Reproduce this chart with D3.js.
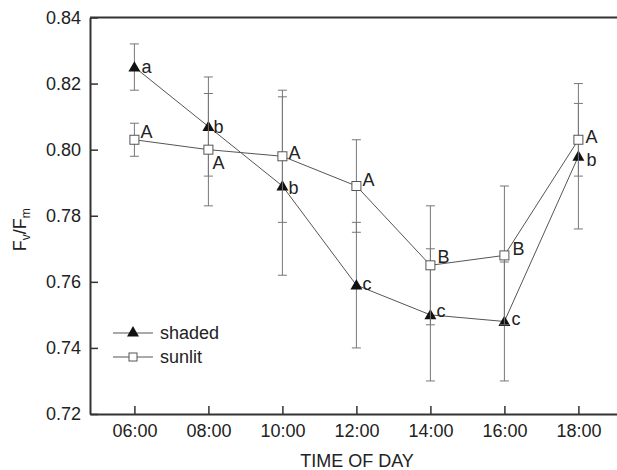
<!DOCTYPE html>
<html><head><meta charset="utf-8">
<script src="https://cdn.jsdelivr.net/npm/d3@7"></script>
<style>
body{margin:0;background:#fff;}
svg{display:block;font-family:"Liberation Sans",Arial,sans-serif;}
</style></head>
<body>
<svg id="chart" width="617" height="470"></svg>
<script>
// ---- data ----
const hours = [6, 8, 10, 12, 14, 16, 18];
const tickLabels = ["06:00", "08:00", "10:00", "12:00", "14:00", "16:00", "18:00"];
const shadedMean = [0.825, 0.807, 0.789, 0.759, 0.750, 0.748, 0.798];
const shadedErr  = [0.007, 0.015, 0.027, 0.019, 0.020, 0.018, 0.022];
const shadedSig  = ["a", "b", "b", "c", "c", "c", "b"];
const sunlitMean = [0.803, 0.800, 0.798, 0.789, 0.765, 0.768, 0.803];
const sunlitErr  = [0.005, 0.017, 0.020, 0.014, 0.018, 0.021, 0.011];
const sunlitSig  = ["A", "A", "A", "A", "B", "B", "A"];
const yTicks = [0.72, 0.74, 0.76, 0.78, 0.80, 0.82, 0.84];

// ---- layout (label offsets in px) ----
const shadedLabelOff = [[7,0],[5,0],[6,2],[6,-1],[6,-4],[7,-3],[8,3]];
const sunlitLabelOff = [[6,-8],[4,13],[6,-4],[6,-6],[7,-9],[8,-7],[7,-3]];

const svg = d3.select("#chart");
const L = 90, T = 17.5, B = 414;
const FS = "18px";
const x = d3.scaleLinear().domain([4.8, 19.4]).range([L, L + 14.6 * 37]);
const y = d3.scaleLinear().domain([0.72, 0.84]).range([B, T]);

const axisColor = "#333";
const lineColor = "#555";
const errColor = "#777";
const textColor = "#222";

// axes
const gx = svg.append("g").attr("transform", `translate(0,${B})`)
  .call(d3.axisBottom(x).tickValues(hours).tickFormat((d,i)=>tickLabels[i]).tickSizeInner(-8).tickSizeOuter(0).tickPadding(10));
const gy = svg.append("g").attr("transform", `translate(${L},0)`)
  .call(d3.axisLeft(y).tickValues(yTicks).tickFormat(d3.format(".2f")).tickSizeInner(-8).tickSizeOuter(0).tickPadding(9));
[gx, gy].forEach(g => {
  g.select(".domain").attr("stroke", axisColor).attr("stroke-width", 2);
  g.selectAll(".tick line").attr("stroke", axisColor).attr("stroke-width", 1.5);
  g.selectAll(".tick text").attr("fill", textColor).style("font-size", FS).style("font-family", "Liberation Sans, Arial, sans-serif");
});
// top frame line
svg.append("line").attr("x1", L).attr("x2", 617).attr("y1", T).attr("y2", T)
  .attr("stroke", axisColor).attr("stroke-width", 2);

// axis titles
const yl = svg.append("text").attr("transform", `translate(26,${y(0.78)+14}) rotate(-90)`)
  .attr("text-anchor", "middle").attr("fill", textColor).style("font-size", FS);
yl.append("tspan").attr("fill", textColor).text("F");
yl.append("tspan").attr("fill", textColor).text("v").attr("dy", 4).style("font-size", "12px");
yl.append("tspan").attr("fill", textColor).text("/F").attr("dy", -4);
yl.append("tspan").attr("fill", textColor).text("m").attr("dy", 4).style("font-size", "12px");

svg.append("text").attr("x", 357).attr("y", 467).attr("text-anchor", "middle")
  .attr("fill", textColor).style("font-size", FS).text("TIME OF DAY");

const line = d3.line().x(d => x(d[0])).y(d => y(d[1]));
const tri = d3.symbol().type(d3.symbolTriangle).size(62);

function drawSeries(means, errs) {
  const g = svg.append("g");
  hours.forEach((h, i) => {
    const cx = x(h), y1 = y(means[i] + errs[i]), y2 = y(means[i] - errs[i]);
    g.append("line").attr("x1", cx).attr("x2", cx).attr("y1", y1).attr("y2", y2).attr("stroke", errColor).attr("stroke-width", 1);
    [y1, y2].forEach(yy => g.append("line").attr("x1", cx - 4.5).attr("x2", cx + 4.5).attr("y1", yy).attr("y2", yy).attr("stroke", errColor).attr("stroke-width", 1));
  });
  g.append("path").datum(hours.map((h, i) => [h, means[i]])).attr("d", line)
    .attr("fill", "none").attr("stroke", lineColor).attr("stroke-width", 1);
  return g;
}
const gSh = drawSeries(shadedMean, shadedErr);
const gSu = drawSeries(sunlitMean, sunlitErr);

// markers
hours.forEach((h, i) => {
  gSu.append("rect").attr("x", x(h) - 4.5).attr("y", y(sunlitMean[i]) - 4.5).attr("width", 9).attr("height", 9)
    .attr("fill", "#fff").attr("stroke", "#555").attr("stroke-width", 1);
});
hours.forEach((h, i) => {
  gSh.append("path").attr("d", tri).attr("transform", `translate(${x(h)},${y(shadedMean[i]) + 1})`).attr("fill", "#111");
});

// significance letters
function labels(means, sig, off) {
  hours.forEach((h, i) => {
    svg.append("text").attr("x", x(h) + off[i][0]).attr("y", y(means[i]) + off[i][1])
      .attr("dy", "0.35em").attr("fill", textColor).style("font-size", FS).text(sig[i]);
  });
}
labels(shadedMean, shadedSig, shadedLabelOff);
labels(sunlitMean, sunlitSig, sunlitLabelOff);

// legend
const legend = [{name: "shaded", type: "tri"}, {name: "sunlit", type: "sq"}];
legend.forEach((d, i) => {
  const ly = 333 + i * 24;
  svg.append("line").attr("x1", 113).attr("x2", 153).attr("y1", ly).attr("y2", ly).attr("stroke", lineColor).attr("stroke-width", 1);
  if (d.type === "tri") svg.append("path").attr("d", tri).attr("transform", `translate(133,${ly})`).attr("fill", "#111");
  else svg.append("rect").attr("x", 129).attr("y", ly - 4).attr("width", 8).attr("height", 8).attr("fill", "#fff").attr("stroke", "#555");
  svg.append("text").attr("x", 160).attr("y", ly).attr("dy", "0.35em").attr("fill", textColor).style("font-size", FS).text(d.name);
});
</script>
</body></html>
